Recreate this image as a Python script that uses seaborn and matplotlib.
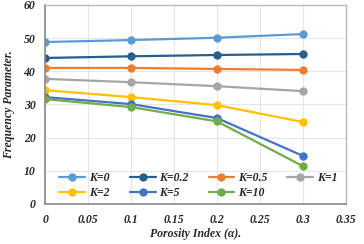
import matplotlib
matplotlib.use('Agg')
import matplotlib.pyplot as plt
import seaborn as sns
import pandas as pd

# Data
porosity = [0, 0.1, 0.2, 0.3]
k_labels = ['K=0', 'K=0.2', 'K=0.5', 'K=1', 'K=2', 'K=5', 'K=10']
k0 = [48.8, 49.4, 50.1, 51.2]
k02 = [44.0, 44.5, 44.9, 45.2]
k05 = [41.0, 41.0, 40.7, 40.4]
k1 = [37.7, 36.7, 35.5, 34.0]
k2 = [34.3, 32.2, 29.8, 24.7]
k5 = [32.2, 30.1, 25.9, 14.5]
k10 = [31.6, 29.2, 24.9, 11.4]
colors = ['#5B9BD5', '#255E91', '#ED7D31', '#A5A5A5', '#FFC000', '#4472C4', '#70AD47']

series = [k0, k02, k05, k1, k2, k5, k10]
rows = []
for lab, vals in zip(k_labels, series):
    for x, v in zip(porosity, vals):
        rows.append({'Porosity': x, 'Freq': v, 'K': lab})
df = pd.DataFrame(rows)

sns.set_style('white')
plt.rcParams['font.family'] = ['Liberation Serif', 'DejaVu Serif']

fig = plt.figure(figsize=(3.64, 2.44), dpi=100)
ax = fig.add_axes([0.124, 0.164, 0.826, 0.816])

sns.lineplot(data=df, x='Porosity', y='Freq', hue='K', hue_order=k_labels,
             palette=colors, marker='o', markersize=6, markeredgewidth=0,
             linewidth=1.6, ax=ax)

ax.set_xlim(0, 0.35)
ax.set_ylim(0, 60)
ax.set_xticks([0, 0.05, 0.1, 0.15, 0.2, 0.25, 0.3, 0.35])
ax.set_xticklabels(['0', '0.05', '0.1', '0.15', '0.2', '0.25', '0.3', '0.35'])
ax.set_yticks([0, 10, 20, 30, 40, 50, 60])
ax.grid(True, color='#E6E6E6', linewidth=0.8)
ax.set_axisbelow(True)

for side in ['left', 'bottom']:
    ax.spines[side].set_color('#888888')
    ax.spines[side].set_linewidth(1.2)
for side in ['top', 'right']:
    ax.spines[side].set_color('#BBBBBB')
    ax.spines[side].set_linewidth(1.0)

ax.tick_params(axis='both', length=0, labelsize=8.5, pad=7)
for lbl in ax.get_xticklabels() + ax.get_yticklabels():
    lbl.set_fontweight('bold')
    lbl.set_fontstyle('italic')

ax.set_xlabel('Porosity Index (\u03b1).', fontsize=8.5, fontweight='bold', fontstyle='italic', labelpad=2)
ax.set_ylabel('Frequency Parameter.', fontsize=8.5, fontweight='bold', fontstyle='italic', labelpad=6)

# legend fills column by column, reorder so rows read K=0..K=1 then K=2..K=10
handles, labels = ax.get_legend_handles_labels()
order = [0, 4, 1, 5, 2, 6, 3]
ax.legend([handles[i] for i in order], [labels[i] for i in order],
          loc='lower left', bbox_to_anchor=(0.03, 0.0), ncol=4, frameon=False,
          handlelength=2.2, columnspacing=1.7, handletextpad=0.3,
          borderaxespad=0.05, labelspacing=0.25,
          prop={'weight': 'bold', 'style': 'italic', 'size': 8.5})

fig.savefig('out.png', dpi=100)
